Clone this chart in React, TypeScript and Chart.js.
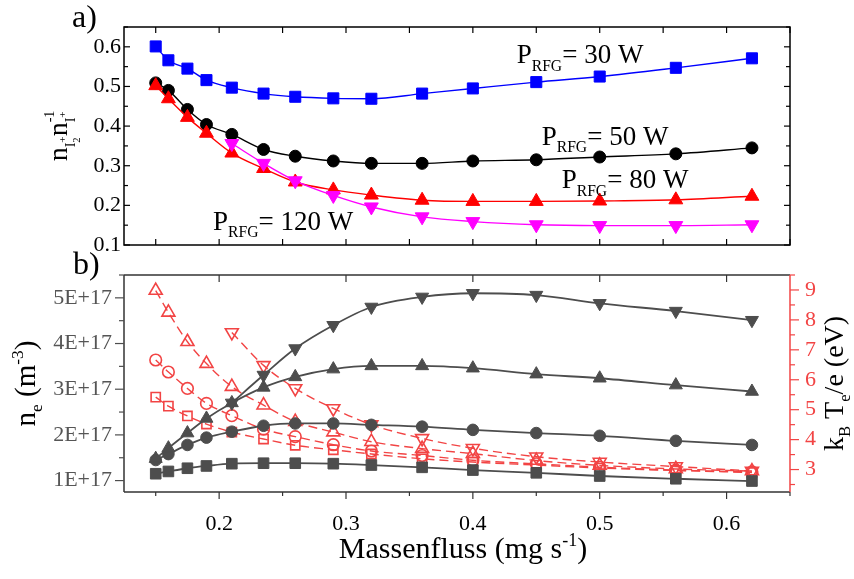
import React, { useEffect, useRef } from 'react';
import { Chart, registerables } from 'chart.js';

Chart.register(...registerables);

const FONT = '"Liberation Serif", "Times New Roman", serif';

// Mass flow (mg/s), shared x values for all series
const massFlow = [0.15, 0.16, 0.175, 0.19, 0.21, 0.235, 0.26, 0.29, 0.32, 0.36, 0.4, 0.45, 0.5, 0.56, 0.62];

// a) density ratio n(I2+)/n(I+) for each RF generator power
const ratio30W = [0.601, 0.566, 0.545, 0.516, 0.497, 0.482, 0.474, 0.47, 0.469, 0.482, 0.495, 0.511, 0.525, 0.547, 0.571];
const ratio50W = [0.509, 0.49, 0.442, 0.404, 0.379, 0.341, 0.324, 0.312, 0.306, 0.306, 0.312, 0.315, 0.322, 0.33, 0.345];
const ratio80W = [0.502, 0.469, 0.422, 0.382, 0.332, 0.293, 0.259, 0.239, 0.226, 0.213, 0.21, 0.21, 0.211, 0.214, 0.223];
const ratio120W = [null, null, null, null, 0.356, 0.306, 0.262, 0.225, 0.196, 0.171, 0.159, 0.151, 0.149, 0.149, 0.151];

// b) electron density (m^-3)
const ne30W = [1.15e17, 1.2e17, 1.27e17, 1.32e17, 1.37e17, 1.38e17, 1.38e17, 1.37e17, 1.34e17, 1.29e17, 1.23e17, 1.17e17, 1.1e17, 1.04e17, 0.99e17];
const ne50W = [1.45e17, 1.58e17, 1.78e17, 1.94e17, 2.07e17, 2.2e17, 2.25e17, 2.25e17, 2.22e17, 2.18e17, 2.11e17, 2.04e17, 1.98e17, 1.87e17, 1.78e17];
const ne80W = [1.48e17, 1.71e17, 2.04e17, 2.36e17, 2.7e17, 3.04e17, 3.27e17, 3.44e17, 3.51e17, 3.51e17, 3.46e17, 3.33e17, 3.24e17, 3.09e17, 2.95e17];
const ne120W = [null, null, null, null, 2.7e17, 3.31e17, 3.89e17, 4.4e17, 4.8e17, 5.02e17, 5.1e17, 5.06e17, 4.88e17, 4.71e17, 4.51e17];

// b) electron temperature kB*Te/e (eV)
const te30W = [5.42, 5.12, 4.79, 4.52, 4.25, 4.02, 3.81, 3.66, 3.52, 3.36, 3.25, 3.15, 3.05, 2.97, 2.9];
const te50W = [6.66, 6.26, 5.71, 5.21, 4.8, 4.35, 4.1, 3.83, 3.62, 3.47, 3.31, 3.19, 3.08, 2.98, 2.92];
const te80W = [8.98, 8.25, 7.27, 6.54, 5.77, 5.15, 4.6, 4.25, 3.93, 3.7, 3.53, 3.3, 3.14, 3.02, 2.95];
const te120W = [null, null, null, null, 7.58, 6.48, 5.71, 5.04, 4.5, 4.04, 3.71, 3.43, 3.25, 3.1, 2.95];

// Tick labels
const flowTickLabels = ['0.2', '0.3', '0.4', '0.5', '0.6'];
const ratioTickLabels = ['0.1', '0.2', '0.3', '0.4', '0.5', '0.6'];
const densityTickLabels = ['1E+17', '2E+17', '3E+17', '4E+17', '5E+17'];
const temperatureTickLabels = ['3', '4', '5', '6', '7', '8', '9'];
const powerLabels = ['30', '50', '80', '120'];

const GRAY = '#4d4d4d';
const RED = '#f24444';

type Part = { t: string; s?: number; dy?: number; mark?: boolean; reset?: boolean };

// Draws a run of text with sub/superscripts; cursor can be saved (mark) and restored (reset)
function drawRich(
  ctx: CanvasRenderingContext2D,
  parts: Part[],
  size: number,
  x: number,
  y: number,
  align: 'left' | 'center',
  rotate = 0,
  color = '#000'
) {
  ctx.save();
  ctx.translate(x, y);
  if (rotate) ctx.rotate(rotate);
  ctx.fillStyle = color;
  ctx.textAlign = 'left';
  ctx.textBaseline = 'alphabetic';
  let off = 0;
  const run = (draw: boolean) => {
    let cx = 0;
    let saved = 0;
    let maxX = 0;
    for (const p of parts) {
      if (p.reset) cx = saved;
      if (p.mark) saved = cx;
      ctx.font = `${size * (p.s ?? 1)}px ${FONT}`;
      if (draw) ctx.fillText(p.t, cx + off, (p.dy ?? 0) * size);
      cx += ctx.measureText(p.t).width;
      maxX = Math.max(maxX, cx);
    }
    return maxX;
  };
  const w = run(false);
  off = align === 'center' ? -w / 2 : 0;
  run(true);
  ctx.restore();
}

function stepValues(min: number, max: number, step: number) {
  const out: number[] = [];
  const start = Math.ceil(min / step - 1e-9);
  const end = Math.floor(max / step + 1e-9);
  for (let k = start; k <= end; k++) out.push(+(k * step).toPrecision(12));
  return out;
}

function isMultiple(v: number, step: number) {
  const r = v / step;
  return Math.abs(r - Math.round(r)) < 1e-6;
}

function line(ctx: CanvasRenderingContext2D, x1: number, y1: number, x2: number, y2: number) {
  ctx.beginPath();
  ctx.moveTo(x1, y1);
  ctx.lineTo(x2, y2);
  ctx.stroke();
}

const pts = (ys: (number | null)[]) => massFlow.map((x, i) => ({ x, y: ys[i] }));

function series(label: string, data: (number | null)[], color: string, style: string, radius: number, opts: any = {}) {
  return {
    label,
    data: pts(data),
    borderColor: color,
    backgroundColor: color,
    borderWidth: 1.4,
    pointStyle: style,
    pointRadius: radius,
    pointHoverRadius: radius,
    pointBackgroundColor: color,
    pointBorderColor: color,
    pointBorderWidth: 1,
    cubicInterpolationMode: 'monotone',
    spanGaps: false,
    ...opts,
  };
}

const ratioPlugin = {
  id: 'ratioPanel',
  afterDraw(chart: any) {
    const { ctx, chartArea: a, scales } = chart;
    const xs = scales.x;
    const ys = scales.y;
    ctx.save();
    ctx.strokeStyle = '#000';
    ctx.lineWidth = 1.5;
    ctx.strokeRect(a.left, a.top, a.right - a.left, a.bottom - a.top);
    ctx.lineWidth = 1.2;
    for (const v of stepValues(xs.min, xs.max, 0.05)) {
      const px = xs.getPixelForValue(v);
      line(ctx, px, a.bottom, px, a.bottom - 6);
      line(ctx, px, a.top, px, a.top + 6);
    }
    for (const v of stepValues(ys.min, ys.max, 0.05)) {
      const py = ys.getPixelForValue(v);
      const len = isMultiple(v, 0.1) ? 6 : 4;
      line(ctx, a.left, py, a.left + len, py);
      line(ctx, a.right, py, a.right - len, py);
    }
    ctx.fillStyle = '#000';
    ctx.font = `22px ${FONT}`;
    ctx.textAlign = 'right';
    ctx.textBaseline = 'middle';
    for (const lbl of ratioTickLabels) ctx.fillText(lbl, a.left - 3, ys.getPixelForValue(Number(lbl)));

    ctx.textAlign = 'left';
    ctx.textBaseline = 'alphabetic';
    ctx.font = `32px ${FONT}`;
    ctx.fillText('a)', 72, 27);
    ctx.restore();

    // y title: n_{I2+} n_{I+}^{-1}
    drawRich(
      ctx,
      [
        { t: 'n' },
        { t: 'I', s: 0.5, dy: 0.28 },
        { t: '2', s: 0.38, dy: 0.47, mark: true },
        { t: '+', s: 0.4, dy: -0.02, reset: true },
        { t: 'n' },
        { t: 'I', s: 0.5, dy: 0.28, mark: true },
        { t: '+', s: 0.4, dy: -0.02 },
        { t: '-1', s: 0.5, dy: -0.45, reset: true },
      ],
      28,
      67,
      136,
      'center',
      -Math.PI / 2
    );

    // power annotations, offsets from the plot corner
    const spots = [
      [392.7, 36.3],
      [417.7, 118],
      [437.7, 161.3],
      [89, 203],
    ];
    powerLabels.forEach((p, i) => {
      drawRich(
        ctx,
        [{ t: 'P' }, { t: 'RFG', s: 0.58, dy: 0.27 }, { t: `= ${p} W` }],
        27,
        a.left + spots[i][0],
        a.top + spots[i][1],
        'left'
      );
    });
  },
};

const plasmaPlugin = {
  id: 'plasmaPanel',
  afterDraw(chart: any) {
    const { ctx, chartArea: a, scales } = chart;
    const xs = scales.x;
    const yl = scales.y;
    const yr = scales.y2;
    ctx.save();
    ctx.lineWidth = 1.5;
    ctx.strokeStyle = '#333';
    line(ctx, a.left, a.top, a.right, a.top);
    line(ctx, a.left, a.bottom, a.right, a.bottom);
    line(ctx, a.left, a.top, a.left, a.bottom);
    ctx.strokeStyle = RED;
    line(ctx, a.right, a.top, a.right, a.bottom);

    ctx.lineWidth = 1.2;
    ctx.strokeStyle = '#333';
    for (const v of stepValues(xs.min, xs.max, 0.05)) {
      const px = xs.getPixelForValue(v);
      const major = isMultiple(v, 0.1);
      line(ctx, px, a.bottom, px, a.bottom + (major ? 7 : 4));
      if (major) line(ctx, px, a.top, px, a.top + 7);
    }
    ctx.strokeStyle = GRAY;
    for (const v of stepValues(yl.min, yl.max, 0.5e17)) {
      const py = yl.getPixelForValue(v);
      line(ctx, a.left, py, a.left - (isMultiple(v, 1e17) ? 9 : 5), py);
    }
    ctx.strokeStyle = RED;
    for (const v of stepValues(yr.min, yr.max, 0.5)) {
      const py = yr.getPixelForValue(v);
      line(ctx, a.right, py, a.right + (isMultiple(v, 1) ? 9 : 5), py);
    }

    ctx.font = `22px ${FONT}`;
    ctx.textBaseline = 'alphabetic';
    ctx.textAlign = 'center';
    ctx.fillStyle = '#000';
    for (const lbl of flowTickLabels) ctx.fillText(lbl, xs.getPixelForValue(Number(lbl)), a.bottom + 38);

    ctx.textBaseline = 'middle';
    ctx.textAlign = 'right';
    ctx.fillStyle = '#555';
    for (const lbl of densityTickLabels) ctx.fillText(lbl, a.left - 12, yl.getPixelForValue(Number(lbl)));

    ctx.textAlign = 'left';
    ctx.fillStyle = RED;
    for (const lbl of temperatureTickLabels) ctx.fillText(lbl, a.right + 15, yr.getPixelForValue(Number(lbl)));

    ctx.textBaseline = 'alphabetic';
    ctx.fillStyle = '#000';
    ctx.font = `32px ${FONT}`;
    ctx.fillText('b)', 73, 274);
    ctx.restore();

    drawRich(
      ctx,
      [{ t: 'Massenfluss (mg s' }, { t: '-1', s: 0.6, dy: -0.4 }, { t: ')' }],
      30,
      (a.left + a.right) / 2 + 6,
      a.bottom + 66,
      'center'
    );
    drawRich(
      ctx,
      [{ t: 'n' }, { t: 'e', s: 0.6, dy: 0.25 }, { t: ' (m' }, { t: '-3', s: 0.6, dy: -0.42 }, { t: ')' }],
      29,
      35,
      (a.top + a.bottom) / 2,
      'center',
      -Math.PI / 2
    );
    drawRich(
      ctx,
      [{ t: 'k' }, { t: 'B', s: 0.6, dy: 0.25 }, { t: ' T' }, { t: 'e', s: 0.6, dy: 0.25 }, { t: '/e (eV)' }],
      28,
      843,
      (a.top + a.bottom) / 2,
      'center',
      -Math.PI / 2
    );
  },
};

function ratioConfig(): any {
  return {
    type: 'line',
    data: {
      datasets: [
        series('120 W', ratio120W, '#ff00ff', 'triangle', 8, { pointRotation: 180 }),
        series('80 W', ratio80W, '#ff0000', 'triangle', 8),
        series('50 W', ratio50W, '#000000', 'circle', 6),
        series('30 W', ratio30W, '#0000ff', 'rect', 7.8),
      ],
    },
    options: {
      animation: false,
      responsive: false,
      devicePixelRatio: 1,
      events: [],
      layout: { padding: { left: 124, right: 64, top: 27, bottom: 334 } },
      plugins: { legend: { display: false }, tooltip: { enabled: false } },
      scales: {
        x: { type: 'linear', min: 0.125, max: 0.65, display: false },
        y: { type: 'linear', min: 0.1, max: 0.65, display: false },
      },
    },
    plugins: [ratioPlugin],
  };
}

function plasmaConfig(): any {
  const hollow = (label: string, data: (number | null)[], style: string, r: number, rot = 0) =>
    series(label, data, RED, style, r, {
      yAxisID: 'y2',
      borderDash: [9, 5],
      pointBackgroundColor: 'rgba(0,0,0,0)',
      pointBorderWidth: 1.6,
      pointRotation: rot,
    });
  return {
    type: 'line',
    data: {
      datasets: [
        series('ne 120 W', ne120W, GRAY, 'triangle', 7.5, { pointRotation: 180, borderWidth: 1.8 }),
        series('ne 80 W', ne80W, GRAY, 'triangle', 7.5, { borderWidth: 1.8 }),
        series('ne 50 W', ne50W, GRAY, 'circle', 5.8, { borderWidth: 1.8 }),
        series('ne 30 W', ne30W, GRAY, 'rect', 7.5, { borderWidth: 1.8 }),
        hollow('Te 120 W', te120W, 'triangle', 7.5, 180),
        hollow('Te 80 W', te80W, 'triangle', 7.5),
        hollow('Te 50 W', te50W, 'circle', 5.8),
        hollow('Te 30 W', te30W, 'rect', 6.5),
      ],
    },
    options: {
      animation: false,
      responsive: false,
      devicePixelRatio: 1,
      events: [],
      layout: { padding: { left: 124, right: 64, top: 275, bottom: 87 } },
      plugins: { legend: { display: false }, tooltip: { enabled: false } },
      scales: {
        x: { type: 'linear', min: 0.125, max: 0.65, display: false },
        y: { type: 'linear', position: 'left', min: 0.75e17, max: 5.5e17, display: false },
        y2: { type: 'linear', position: 'right', min: 2.25, max: 9.5, display: false },
      },
    },
    plugins: [plasmaPlugin],
  };
}

export default function App() {
  const topRef = useRef<HTMLCanvasElement>(null);
  const bottomRef = useRef<HTMLCanvasElement>(null);

  useEffect(() => {
    const top = new Chart(topRef.current!, ratioConfig());
    const bottom = new Chart(bottomRef.current!, plasmaConfig());
    return () => {
      top.destroy();
      bottom.destroy();
    };
  }, []);

  return (
    <div style={{ position: 'absolute', left: 0, top: 0, width: 854, height: 579, background: '#fff', overflow: 'hidden' }}>
      <canvas ref={topRef} width={854} height={579} style={{ position: 'absolute', left: 0, top: 0 }} />
      <canvas ref={bottomRef} width={854} height={579} style={{ position: 'absolute', left: 0, top: 0 }} />
    </div>
  );
}
